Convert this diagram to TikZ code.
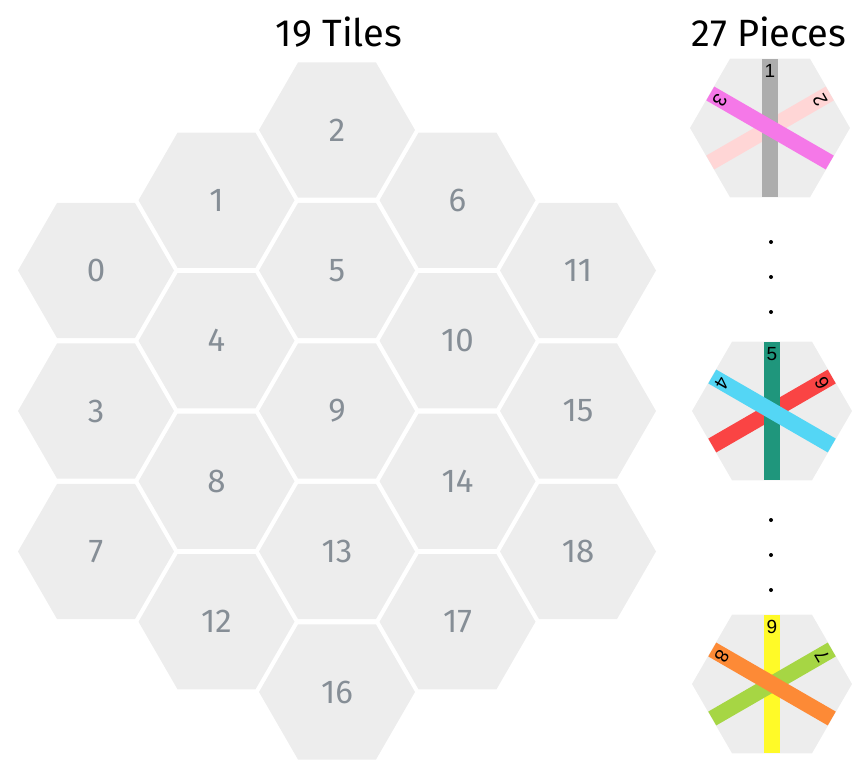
\documentclass[tikz,border=0pt]{standalone}
\usepackage{fontspec}
\setmainfont{Fira Sans}
\newfontfamily\barfont{Liberation Sans}
\usetikzlibrary{shapes.geometric, calc}
\definecolor{tilefill}{RGB}{237,237,237}
\definecolor{tilelabel}{RGB}{134,142,150}
\definecolor{cgray}{RGB}{173,173,173}
\definecolor{cpink}{RGB}{255,214,214}
\definecolor{cmagenta}{RGB}{245,120,232}
\definecolor{cteal}{RGB}{31,150,124}
\definecolor{cblue}{RGB}{84,214,245}
\definecolor{cred}{RGB}{250,68,68}
\definecolor{cyellow}{RGB}{255,250,40}
\definecolor{cgreen}{RGB}{166,214,68}
\definecolor{corange}{RGB}{253,138,54}
\tikzset{
tile/.style={%
    regular polygon,
    regular polygon sides=6,
    minimum size=156pt,
    inner sep=0pt,
    fill=tilefill,
    text=tilelabel,
    font=\fontsize{33}{33}\selectfont
},
piece/.style={%
    tile, minimum size=160pt
},
bar/.style={rectangle,minimum width=138pt,minimum height=16pt,inner sep=0pt,fill=#1},
barlabel/.style={inner sep=0pt,text=black,font=\barfont\fontsize{19}{19}\selectfont},
title/.style={text=black,font=\fontsize{38}{38}\selectfont},
dot/.style={circle,inner sep=0pt,minimum size=4pt,fill=black},
}

\begin{document}
\begin{tikzpicture}[x=1pt,y=-1pt]
	\useasboundingbox (0,0) rectangle (864,778);
	\node[title] (tilestitle) at (339,32) {19 Tiles};
	\node[title] (piecestitle) at (769,32) {27 Pieces};

	% board: number / column / half row
	\foreach \n/\c/\r in {0/0/2, 1/1/1, 2/2/0, 3/0/4, 4/1/3, 5/2/2, 6/3/1,
		7/0/6, 8/1/5, 9/2/4, 10/3/3, 11/4/2, 12/1/7, 13/2/6, 14/3/5,
		15/4/4, 16/2/8, 17/3/7, 18/4/6}
		\node[tile] (t\n) at (96+120.5*\c, 130+70.25*\r) {\n};

	% pieces
	\node[piece] (pa) at (770,128) {};
	\node[piece] (pb) at (772,411) {};
	\node[piece] (pc) at (772,684) {};

	\node[bar=cpink, rotate=30] (bar2) at (pa) {};
	\node[bar=cgray, rotate=90] (bar1) at (pa) {};
	\node[bar=cmagenta, rotate=-30] (bar3) at (pa) {};
	\node[barlabel] (lab1) at ($(pa)+(0,-57)$) {1};
	\node[barlabel, rotate=120] (lab2) at ($(pa)+(50,-28)$) {2};
	\node[barlabel, rotate=-120] (lab3) at ($(pa)+(-50,-28)$) {3};

	\node[bar=cred, rotate=30] (bar6) at (pb) {};
	\node[bar=cteal, rotate=90] (bar5) at (pb) {};
	\node[bar=cblue, rotate=-30] (bar4) at (pb) {};
	\node[barlabel] (lab5) at ($(pb)+(0,-57)$) {5};
	\node[barlabel, rotate=120] (lab6) at ($(pb)+(50,-28)$) {6};
	\node[barlabel, rotate=-120] (lab4) at ($(pb)+(-50,-28)$) {4};

	\node[bar=cyellow, rotate=90] (bar9) at (pc) {};
	\node[bar=cgreen, rotate=30] (bar7) at (pc) {};
	\node[bar=corange, rotate=-30] (bar8) at (pc) {};
	\node[barlabel] (lab9) at ($(pc)+(0,-57)$) {9};
	\node[barlabel, rotate=120] (lab7) at ($(pc)+(50,-28)$) {7};
	\node[barlabel, rotate=-120] (lab8) at ($(pc)+(-50,-28)$) {8};

	% dots between pieces
	\foreach \y in {242,277,312}
		\node[dot] (d\y) at (771,\y) {};
	\foreach \y in {520,555,590}
		\node[dot] (e\y) at (771,\y) {};
\end{tikzpicture}
\end{document}
